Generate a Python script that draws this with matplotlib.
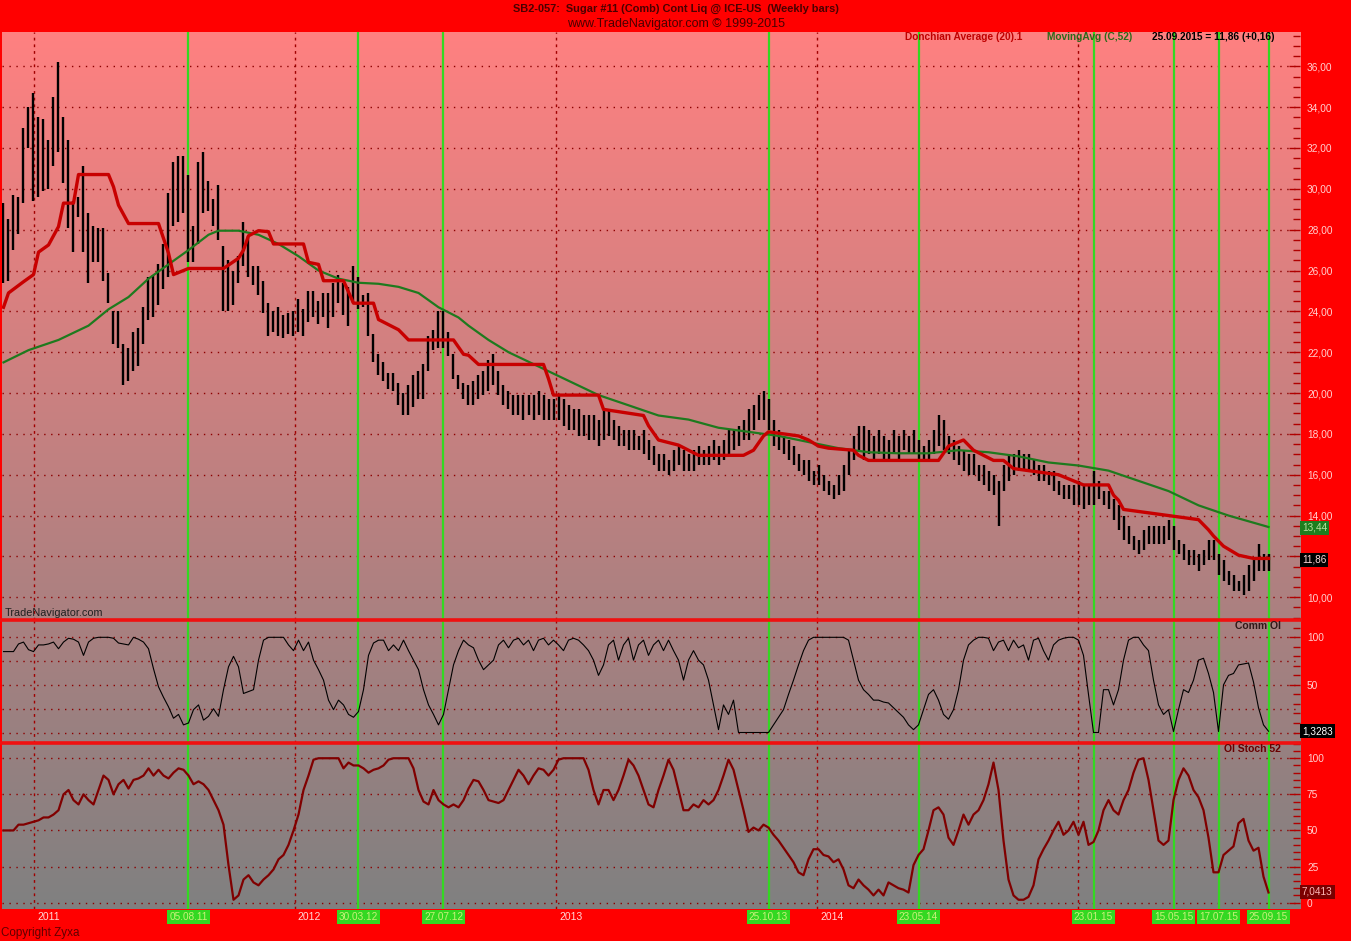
import numpy as np
import pandas as pd
import matplotlib
matplotlib.use('Agg')
import matplotlib.pyplot as plt
import matplotlib.dates as mdates
import matplotlib.transforms as mtrans
from matplotlib.ticker import MultipleLocator, FixedLocator, FuncFormatter

plt.rcParams['font.family'] = ['Liberation Sans', 'DejaVu Sans']

# weekly bars (Fridays)
dates = pd.date_range('2010-11-19', '2015-09-25', freq='W-FRI')

highs = [
    29.3, 28.5, 29.7, 29.6, 33.0, 34.0, 34.7, 33.5, 33.4, 32.4,
    34.5, 36.2, 33.5, 32.4, 29.4, 29.6, 31.1, 28.8, 28.2, 28.1,
    28.1, 25.9, 24.0, 24.0, 22.4, 22.2, 23.0, 23.2, 24.2, 25.7,
    25.8, 26.3, 27.3, 29.8, 31.3, 31.6, 31.6, 30.7, 28.2, 31.3,
    31.8, 30.4, 29.5, 30.2, 27.2, 26.5, 26.0, 26.7, 28.4, 27.7,
    26.2, 26.2, 25.5, 24.4, 24.0, 24.2, 23.8, 23.9, 24.0, 24.6,
    24.1, 25.0, 25.0, 24.5, 24.9, 24.9, 25.4, 25.8, 25.4, 25.2,
    26.2, 25.7, 24.8, 24.9, 22.9, 21.9, 21.5, 21.0, 21.0, 20.5,
    20.0, 20.4, 20.9, 21.1, 21.4, 22.8, 23.1, 24.0, 24.0, 23.0,
    21.9, 20.9, 20.5, 20.4, 20.6, 20.9, 21.1, 21.6, 21.9, 21.1,
    20.4, 20.1, 19.9, 19.9, 19.9, 19.9, 19.9, 20.1, 19.9, 19.7,
    19.7, 19.9, 19.7, 19.4, 19.2, 19.2, 18.9, 18.9, 18.9, 18.7,
    19.2, 19.2, 18.7, 18.4, 18.2, 18.2, 18.2, 17.9, 18.2, 17.7,
    17.4, 17.0, 17.0, 16.7, 17.2, 17.4, 17.2, 17.0, 17.2, 17.4,
    17.2, 17.4, 17.7, 17.4, 17.7, 18.2, 18.2, 18.4, 18.7, 19.2,
    19.4, 19.9, 20.1, 19.7, 18.7, 18.2, 17.9, 17.7, 17.4, 17.0,
    16.7, 16.7, 16.2, 16.5, 16.0, 15.7, 15.5, 16.0, 16.5, 17.2,
    17.9, 18.4, 18.4, 18.2, 17.9, 18.2, 17.9, 17.7, 18.2, 17.9,
    18.2, 17.9, 18.2, 17.7, 17.4, 17.7, 18.2, 18.9, 18.7, 17.9,
    17.7, 17.4, 17.2, 17.0, 17.0, 16.5, 16.5, 16.2, 16.0, 15.7,
    16.5, 17.0, 17.0, 17.2, 17.0, 17.0, 16.7, 16.5, 16.5, 16.2,
    16.2, 15.7, 15.5, 15.5, 15.5, 15.7, 15.5, 15.5, 16.2, 15.7,
    15.2, 15.2, 14.8, 14.5, 14.0, 13.5, 13.0, 12.8, 13.3, 13.5,
    13.5, 13.5, 13.5, 13.8, 13.5, 12.8, 12.6, 12.3, 12.3, 12.1,
    12.3, 12.8, 12.8, 12.1, 11.8, 11.3, 11.1, 10.8, 11.1, 11.6,
    11.8, 12.6, 12.1, 12.1]

lows = [
    25.4, 25.5, 27.0, 27.8, 29.3, 32.0, 29.4, 29.6, 29.9, 30.0,
    31.1, 31.8, 30.3, 28.1, 26.9, 28.6, 26.9, 25.4, 26.4, 26.4,
    25.5, 24.4, 22.4, 22.2, 20.4, 20.6, 21.1, 21.3, 22.4, 23.6,
    23.7, 24.3, 25.1, 25.7, 28.2, 28.4, 28.8, 26.4, 26.4, 27.3,
    28.8, 28.9, 28.2, 27.5, 24.0, 24.0, 24.3, 25.4, 26.2, 25.7,
    25.3, 24.8, 23.9, 22.8, 23.0, 22.8, 22.7, 22.9, 22.8, 23.0,
    22.8, 23.5, 23.7, 23.4, 23.7, 23.2, 23.7, 24.4, 23.8, 23.3,
    24.4, 24.1, 24.2, 22.8, 21.5, 20.9, 20.6, 20.2, 20.1, 19.4,
    18.9, 18.9, 19.3, 19.7, 19.7, 21.1, 22.1, 22.2, 22.2, 21.8,
    20.7, 20.2, 19.7, 19.4, 19.4, 19.7, 19.9, 20.1, 20.4, 19.9,
    19.4, 19.2, 18.9, 18.9, 18.7, 18.9, 18.7, 18.9, 18.7, 18.7,
    18.7, 18.7, 18.4, 18.2, 18.2, 17.9, 17.9, 17.7, 17.7, 17.4,
    17.7, 17.9, 17.7, 17.4, 17.4, 17.2, 17.2, 17.2, 17.0, 16.7,
    16.5, 16.2, 16.2, 16.0, 16.2, 16.5, 16.2, 16.2, 16.2, 16.5,
    16.5, 16.5, 16.7, 16.5, 16.7, 17.0, 17.2, 17.4, 17.7, 17.7,
    18.2, 18.7, 18.7, 18.2, 17.4, 17.2, 17.0, 16.7, 16.5, 16.2,
    16.0, 15.7, 15.5, 15.5, 15.2, 15.0, 14.8, 15.0, 15.2, 16.0,
    16.7, 17.2, 16.7, 17.0, 16.7, 17.0, 16.7, 16.7, 17.0, 16.7,
    17.2, 17.0, 17.0, 16.7, 16.7, 16.7, 17.0, 17.4, 17.2, 17.0,
    16.7, 16.5, 16.2, 16.0, 16.0, 15.7, 15.5, 15.2, 15.0, 13.5,
    15.2, 15.7, 16.0, 16.2, 16.2, 16.2, 16.0, 15.7, 15.7, 15.5,
    15.2, 15.0, 14.8, 14.8, 14.5, 14.5, 14.3, 14.5, 14.5, 14.8,
    14.5, 14.3, 13.8, 13.3, 12.8, 12.6, 12.3, 12.1, 12.3, 12.6,
    12.6, 12.6, 12.6, 12.8, 12.3, 12.1, 11.8, 11.6, 11.6, 11.3,
    11.6, 11.8, 11.8, 11.1, 10.8, 10.6, 10.3, 10.3, 10.1, 10.3,
    10.8, 11.3, 11.3, 11.3]

# Donchian Average (20) read at its turning points (bar index, value)
don_at = [0, 1, 4, 6, 7, 9, 11, 12, 14, 15, 21, 22, 23, 25, 31, 33, 34, 37, 44, 47,
          48, 49, 51, 53, 54, 60, 61, 63, 64, 68, 70, 74, 75, 79, 81, 90, 92, 93, 95, 108,
          109, 110, 119, 120, 128, 129, 131, 135, 139, 148, 150, 152, 153, 159, 161, 163, 165, 170, 171, 173,
          187, 189, 192, 194, 196, 198, 200, 202, 211, 216, 221, 222, 223, 224, 233, 239, 241, 242, 244, 247,
          250, 253]
don_val = [24.2, 24.9, 25.45, 25.8, 26.9, 27.25, 28.15, 29.3, 29.3, 30.7, 30.7, 30.1, 29.2, 28.3, 28.3, 26.85, 25.8, 26.1, 26.1, 26.6,
           27.0, 27.7, 27.95, 27.9, 27.3, 27.3, 26.4, 26.3, 25.5, 25.5, 24.4, 24.4, 23.6, 23.1, 22.6, 22.6, 21.9, 21.85, 21.4, 21.4,
           20.7, 19.9, 19.9, 19.2, 18.9, 18.4, 17.7, 17.45, 16.95, 16.95, 17.2, 17.9, 18.1, 17.9, 17.7, 17.4, 17.3, 17.2, 16.95, 16.7,
           16.7, 17.4, 17.7, 17.2, 16.95, 16.7, 16.7, 16.3, 16.0, 15.5, 15.5, 15.0, 14.75, 14.3, 14.0, 13.8, 13.3, 13.0, 12.5, 12.06,
           11.9, 11.9]

# MovingAvg (C,52) read every few bars
ma_at = [0, 5, 11, 17, 21, 25, 29, 33, 37, 41, 43, 47, 51, 55, 59, 63, 67, 71, 75, 79,
         83, 87, 91, 93, 97, 101, 107, 113, 119, 125, 131, 137, 143, 149, 155, 161, 167, 173, 179, 185,
         191, 197, 203, 209, 215, 221, 227, 233, 239, 245, 253]
ma_val = [21.5, 22.1, 22.6, 23.3, 24.1, 24.7, 25.6, 26.3, 27.0, 27.75, 27.95, 27.95, 27.75, 27.3, 26.7, 26.0, 25.6, 25.4, 25.35, 25.2,
          24.9, 24.2, 23.7, 23.3, 22.6, 22.0, 21.3, 20.6, 19.9, 19.4, 18.9, 18.7, 18.3, 18.1, 17.9, 17.6, 17.3, 17.1, 17.05, 17.05,
          17.2, 17.1, 16.9, 16.6, 16.45, 16.2, 15.7, 15.2, 14.5, 14.0, 13.44]

comm_oi = [
    85, 85, 85, 93, 95, 87, 85, 92, 92, 93,
    95, 88, 95, 99, 98, 95, 81, 95, 99, 100,
    100, 100, 99, 94, 93, 92, 100, 98, 95, 88,
    67, 48, 37, 27, 15, 19, 8, 10, 24, 29,
    13, 17, 25, 17, 45, 69, 80, 69, 41, 43,
    45, 76, 97, 100, 100, 100, 100, 92, 86, 97,
    86, 95, 76, 66, 55, 34, 24, 34, 29, 19,
    16, 22, 45, 81, 94, 97, 97, 86, 92, 86,
    97, 86, 76, 66, 45, 29, 19, 8, 19, 45,
    71, 86, 97, 92, 89, 76, 66, 71, 76, 92,
    97, 89, 97, 99, 92, 97, 86, 97, 99, 92,
    97, 92, 86, 97, 99, 97, 92, 86, 76, 60,
    71, 92, 97, 76, 92, 99, 76, 92, 97, 81,
    92, 97, 86, 97, 86, 76, 55, 76, 86, 76,
    71, 55, 29, 3, 29, 19, 34, 0, 0, 0,
    0, 0, 0, 0, 8, 16, 24, 40, 55, 71,
    86, 97, 100, 100, 100, 100, 100, 100, 100, 97,
    76, 55, 45, 40, 34, 34, 32, 31, 26, 21,
    16, 8, 3, 8, 24, 40, 45, 34, 19, 14,
    24, 45, 76, 92, 97, 100, 100, 99, 86, 95,
    97, 86, 97, 89, 92, 76, 97, 99, 86, 76,
    92, 97, 99, 100, 100, 97, 81, 40, 0, 0,
    45, 45, 29, 45, 76, 97, 100, 100, 92, 86,
    55, 29, 19, 24, 1, 24, 45, 42, 55, 76,
    78, 62, 42, 1, 50, 60, 62, 71, 72, 73,
    53, 26, 8, 1.3283]

oi_stoch = [
    50, 50, 50, 54, 54, 55, 56, 57, 59, 59,
    61, 64, 75, 78, 71, 68, 75, 71, 68, 78,
    88, 85, 75, 82, 85, 79, 85, 86, 88, 93,
    88, 92, 88, 86, 90, 93, 92, 88, 82, 84,
    82, 78, 71, 64, 54, 26, 2, 5, 16, 19,
    14, 12, 16, 19, 23, 30, 33, 40, 50, 61,
    78, 88, 99, 100, 100, 100, 100, 100, 93, 97,
    95, 95, 93, 90, 92, 93, 95, 99, 100, 100,
    100, 100, 93, 78, 70, 68, 78, 71, 68, 66,
    68, 66, 71, 79, 85, 84, 78, 71, 70, 69,
    71, 78, 85, 92, 88, 82, 88, 93, 92, 88,
    92, 99, 100, 100, 100, 100, 100, 92, 78, 68,
    78, 78, 71, 78, 88, 99, 95, 88, 78, 68,
    66, 78, 88, 99, 92, 78, 64, 64, 68, 66,
    71, 68, 71, 78, 88, 99, 92, 78, 64, 49,
    52, 50, 54, 52, 47, 43, 38, 33, 28, 21,
    19, 30, 37, 37, 33, 32, 28, 30, 23, 12,
    10, 16, 12, 9, 5, 9, 5, 14, 12, 10,
    9, 7, 26, 33, 37, 50, 64, 66, 61, 45,
    40, 50, 61, 54, 61, 64, 71, 82, 97, 78,
    43, 16, 5, 2, 2, 4, 12, 30, 37, 43,
    50, 56, 47, 50, 56, 47, 56, 40, 42, 50,
    64, 71, 64, 61, 71, 78, 90, 99, 100, 85,
    64, 43, 40, 43, 71, 85, 93, 88, 78, 73,
    64, 45, 21, 21, 33, 36, 39, 55, 58, 43,
    36, 38, 18, 7.0413]

year_marks = ['2011-01-01', '2012-01-01', '2013-01-01', '2014-01-01', '2015-01-01']
year_labels = ['2011', '2012', '2013', '2014', '']
signal_dates = ['2011-08-05', '2012-03-30', '2012-07-27', '2013-10-25', '2014-05-23',
                '2015-01-23', '2015-05-15', '2015-07-17', '2015-09-25']

# colours
bg_red = '#FF0000'
grid_red = '#8C0000'
lime = '#33D822'
W, H = 1351, 941
L, R = 1.5, 1300

fig = plt.figure(figsize=(W / 100, H / 100), dpi=100)
fig.patch.set_facecolor(bg_red)

def px_axes(top, bottom, left=L, right=R):
    return fig.add_axes([left / W, 1 - bottom / H, (right - left) / W, (bottom - top) / H])

def ftext(x, y, s, **kw):
    return fig.text(x / W, 1 - y / H, s, **kw)

# gradient background behind all three panels
bg = px_axes(32, 909)
top_c = np.array([255, 128, 128]) / 255
bot_c = np.array([128, 128, 128]) / 255
t = np.linspace(0, 1, 256)[:, None]
grad = (top_c[None, :] * (1 - t) + bot_c[None, :] * t)[:, None, :]
bg.imshow(grad, aspect='auto', extent=[0, 1, 0, 1])
bg.axis('off')

dnum = mdates.date2num(dates.to_pydatetime())
x0 = dnum[0] - 2.8
x1 = dnum[-1] + 44.1

def setup(ax, ylim):
    ax.set_facecolor('none')
    for s in ax.spines.values():
        s.set_visible(False)
    ax.set_xlim(x0, x1)
    ax.set_ylim(*ylim)
    ax.set_xticks([])
    ax.yaxis.tick_right()
    ax.tick_params(axis='y', which='both', direction='in', color='#B00000',
                   labelcolor='#FFD0D0', labelsize=7.3, width=1, pad=5)
    ax.tick_params(axis='y', which='major', length=8)
    ax.tick_params(axis='y', which='minor', length=5)
    for y in year_marks:
        ax.axvline(mdates.datestr2num(y), color='#A00000', lw=1, ls=(0, (2, 2.8)), zorder=1)
    for d in signal_dates:
        ax.axvline(mdates.datestr2num(d), color=lime, lw=1.6, zorder=2)

ax1 = px_axes(32, 619.7)
ax2 = px_axes(619.7, 742.5)
ax3 = px_axes(742.5, 909)

setup(ax1, (8.90, 37.68))
setup(ax2, (-10.5, 118.5))
setup(ax3, (-4.4, 110.9))

# price panel (the 12,00 label sits under the last-close box)
def price_fmt(v, p):
    return '' if abs(v - 12) < 1e-6 else f'{v:.2f}'.replace('.', ',')

ax1.yaxis.set_major_locator(MultipleLocator(2))
ax1.yaxis.set_minor_locator(MultipleLocator(0.5))
ax1.yaxis.set_major_formatter(FuncFormatter(price_fmt))
for v in range(10, 37, 2):
    ax1.axhline(v, color=grid_red, lw=1, ls=(0, (1, 4)), zorder=1)
ax1.vlines(dnum, lows, highs, color='black', lw=1.7, zorder=3)
ax1.plot(dnum[ma_at], ma_val, color='#1E7A1E', lw=1.6, zorder=4)
ax1.plot(dnum[don_at], don_val, color='#C80000', lw=2.4, zorder=5)

# Comm OI panel
ax2.yaxis.set_major_locator(FixedLocator([50, 100]))
ax2.yaxis.set_minor_locator(MultipleLocator(10))
ax2.yaxis.set_major_formatter(FuncFormatter(lambda v, p: f'{v:.0f}'))
for v in (0, 25, 50, 75, 100):
    ax2.axhline(v, color=grid_red, lw=1, ls=(0, (1, 4)), zorder=1)
ax2.plot(dnum, comm_oi, color='black', lw=0.8, zorder=4)
ax2.spines['top'].set_visible(True)
ax2.spines['top'].set_color('#F01010')
ax2.spines['top'].set_linewidth(2.6)

# OI Stoch panel
ax3.yaxis.set_major_locator(MultipleLocator(25))
ax3.yaxis.set_minor_locator(MultipleLocator(5))
ax3.yaxis.set_major_formatter(FuncFormatter(lambda v, p: f'{v:.0f}'))
for v in (0, 25, 50, 75, 100):
    ax3.axhline(v, color=grid_red, lw=1, ls=(0, (1, 4)), zorder=1)
ax3.plot(dnum, oi_stoch, color='#800000', lw=1.6, zorder=4)
ax3.spines['top'].set_visible(True)
ax3.spines['top'].set_color('#F01010')
ax3.spines['top'].set_linewidth(2.6)

# date labels under the panels
xt = ax3.get_xaxis_transform()
y_lab = (909 - 917) / (909 - 742.5)
for y, lab in zip(year_marks, year_labels):
    if lab:
        ax3.text(mdates.datestr2num(y), y_lab, lab, transform=mtrans.offset_copy(xt, fig=fig, x=3, units='dots'),
                 ha='left', va='center', fontsize=7.5, color='#FFD8D8', clip_on=False)
for d in signal_dates:
    lab = pd.Timestamp(d).strftime('%d.%m.%y')
    ax3.text(mdates.datestr2num(d), y_lab, lab, transform=xt, ha='center', va='center',
             fontsize=7.2, color='#C8F07A', clip_on=False,
             bbox=dict(boxstyle='square,pad=0.22', fc=lime, ec='none'))

# header
ftext(676, 9, 'SB2-057:  Sugar #11 (Comb) Cont Liq @ ICE-US  (Weekly bars)', ha='center', va='center',
      fontsize=7.9, fontweight='bold', color='#4A0000')
ftext(676, 24, 'www.TradeNavigator.com \u00a9 1999-2015', ha='center', va='center',
      fontsize=9, color='#4A0000')
ftext(905, 37, 'Donchian Average (20).1', ha='left', va='center', fontsize=7.3, fontweight='bold', color='#C00000')
ftext(1047, 37, 'MovingAvg (C,52)', ha='left', va='center', fontsize=7.3, fontweight='bold', color='#2A6A1A')
ftext(1152, 37, '25.09.2015 = 11,86 (+0,16)', ha='left', va='center', fontsize=7.3, fontweight='bold', color='black')

ftext(5, 612.5, 'TradeNavigator.com', ha='left', va='center', fontsize=7.8, color='#202020')
ftext(1281, 626, 'Comm OI', ha='right', va='center', fontsize=7.5, fontweight='bold', color='#301818')
ftext(1281, 749, 'OI Stoch 52', ha='right', va='center', fontsize=7.5, fontweight='bold', color='#6A0000')
ftext(1, 933, 'Copyright Zyxa', ha='left', va='center', fontsize=8.4, color='#600000')

# last value boxes
def value_box(y, s, fc, tc):
    ftext(1302, y, s, ha='left', va='center', fontsize=7.2, color=tc, zorder=10,
          bbox=dict(boxstyle='square,pad=0.2', fc=fc, ec='none'))

value_box(527.5, f'{ma_val[-1]:.2f}'.replace('.', ','), '#1E7E1E', '#B8E0A0')
value_box(559.5, '11,86', 'black', '#FFD8D8')
value_box(731, f'{comm_oi[-1]:.4f}'.replace('.', ','), 'black', 'white')
value_box(891.5, f'{oi_stoch[-1]:.4f}'.replace('.', ','), '#7A0000', '#FFB8B8')

fig.savefig('out.png', dpi=100, facecolor=fig.get_facecolor())
